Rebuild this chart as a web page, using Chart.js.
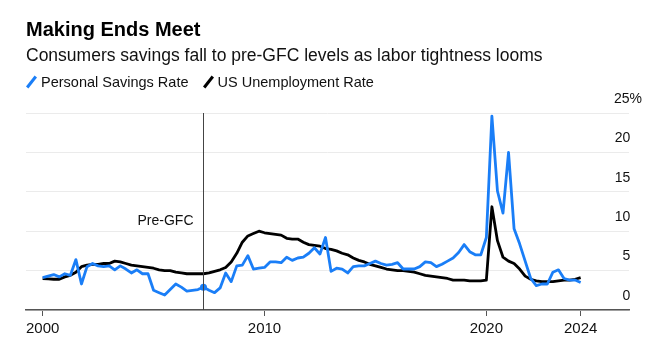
<!DOCTYPE html>
<html>
<head>
<meta charset="utf-8">
<script src="https://cdn.jsdelivr.net/npm/chart.js@4.4.1/dist/chart.umd.min.js"></script>
<style>
  body { margin: 0; background: #fff; font-family: 'Liberation Sans', Arial, sans-serif; }
  .wrap { position: relative; width: 665px; height: 349px; }
  .title { position: absolute; left: 26px; top: 18px; font-size: 20px; font-weight: bold; color: #000; }
  .sub { position: absolute; left: 26px; top: 45px; font-size: 17.5px; color: #111; }
  .legend { position: absolute; left: 26px; top: 73px; font-size: 14.5px; color: #111; }
  .legend span { display: inline-block; vertical-align: middle; }
  .key { width: 3px; height: 14px; margin: 0 8px 0 4px; transform: rotate(38deg); }
  canvas { position: absolute; left: 0; top: 0; }
</style>
</head>
<body>
<div class="wrap">
  <canvas class="canva1"></canvas>
  <div class="title">Making Ends Meet</div>
  <div class="sub">Consumers savings fall to pre-GFC levels as labor tightness looms</div>
  <div class="legend">
    <span class="key" style="background:#1a7ef7"></span><span>Personal Savings Rate</span>
    <span class="key" style="background:#000;margin-left:14px"></span><span>US Unemployment Rate</span>
  </div>
</div>
<script>
// quarterly, 2000 Q1 .. 2024 Q2
let startYear = 2000;
let savingsRate = [
  4.1, 4.3, 4.5, 4.2, 4.6, 4.4, 6.4, 3.3, 5.5, 5.9,
  5.6, 5.5, 5.6, 5.1, 5.6, 5.2, 4.7, 5.1, 4.6, 4.6,
  2.5, 2.2, 1.9, 2.6, 3.3, 2.9, 2.4, 2.5, 2.6, 2.9,
  2.5, 2.2, 2.8, 4.7, 3.6, 5.6, 5.7, 6.9, 5.2, 5.3,
  5.4, 6.1, 6.1, 6.0, 6.7, 6.3, 6.6, 6.7, 7.2, 7.9,
  7.1, 9.2, 4.9, 5.3, 5.2, 4.7, 5.5, 5.6, 5.6, 5.9,
  6.2, 5.9, 5.7, 5.8, 6.0, 5.2, 5.2, 5.2, 5.5, 6.1,
  6.0, 5.5, 5.8, 6.2, 6.6, 7.3, 8.3, 7.4, 7.0, 7.0,
  9.2, 24.6, 15.1, 12.3, 20.0, 10.3, 8.4, 6.2, 4.0, 3.1,
  3.3, 3.3, 4.8, 5.1, 4.0, 3.8, 3.8, 3.5
];
let unemploymentRate = [
  4.0, 3.95, 3.9, 3.9, 4.2, 4.4, 4.8, 5.5, 5.7, 5.8,
  5.8, 5.9, 5.9, 6.2, 6.1, 5.9, 5.7, 5.6, 5.5, 5.4,
  5.3, 5.1, 5.0, 5.0, 4.8, 4.7, 4.6, 4.6, 4.6, 4.6,
  4.7, 4.9, 5.1, 5.4, 6.1, 7.2, 8.6, 9.4, 9.7, 10.0,
  9.8, 9.7, 9.6, 9.5, 9.1, 9.0, 9.0, 8.6, 8.3, 8.2,
  8.1, 7.8, 7.7, 7.5, 7.2, 7.0, 6.6, 6.3, 6.1, 5.8,
  5.6, 5.4, 5.2, 5.1, 5.0, 5.0, 4.9, 4.8, 4.6, 4.4,
  4.3, 4.2, 4.1, 4.0, 3.8, 3.8, 3.8, 3.7, 3.7, 3.7,
  3.8, 13.1, 8.8, 6.7, 6.2, 5.9, 5.2, 4.3, 3.9, 3.7,
  3.6, 3.6, 3.6, 3.7, 3.8, 3.8, 3.9, 4.1
];
let xTicks = [2000, 2010, 2020, 2024.25];
let xTickLabels = [`2000`, `2010`, `2020`, `2024`];
let yTicks = [0, 5, 10, 15, 20, 25];
let preGfcIndex = 29; // 2007 Q2

let toPoints = arr => arr.map((v, i) => ({ x: startYear + i / 4, y: v }));

let preGfc = {
  id: `preGfc`,
  afterDatasetsDraw(chart) {
    let { ctx, chartArea, scales } = chart;
    let x = Math.round(scales.x.getPixelForValue(startYear + preGfcIndex / 4)) + 0.5;
    ctx.save();
    ctx.strokeStyle = `#444`;
    ctx.lineWidth = 1;
    ctx.beginPath();
    ctx.moveTo(x, chartArea.top);
    ctx.lineTo(x, chartArea.bottom);
    ctx.stroke();
    ctx.fillStyle = `#111`;
    ctx.font = `14px 'Liberation Sans', Arial, sans-serif`;
    ctx.textAlign = `right`;
    ctx.textBaseline = `middle`;
    ctx.fillText(`Pre-GFC`, x - 10, scales.y.getPixelForValue(11.3));
    ctx.restore();
  }
};

Chart.defaults.font.family = `'Liberation Sans', Arial, sans-serif`;
Chart.defaults.font.size = 14;
Chart.defaults.color = `#111`;

let canva1 = document.querySelector(`.canva1`);

new Chart(canva1, {
  type: `line`,
  data: {
    datasets: [
      {
        label: `Personal Savings Rate`,
        data: toPoints(savingsRate),
        borderColor: `#1a7ef7`,
        backgroundColor: `#1a7ef7`,
        borderWidth: 2.8,
        borderJoinStyle: `round`,
        pointRadius: ctx => ctx.dataIndex === preGfcIndex ? 3.5 : 0,
        pointBorderWidth: 0
      },
      {
        label: `US Unemployment Rate`,
        data: toPoints(unemploymentRate),
        borderColor: `#000`,
        backgroundColor: `#000`,
        borderWidth: 2.8,
        borderJoinStyle: `round`,
        pointRadius: 0
      }
    ]
  },
  options: {
    responsive: true,
    maintainAspectRatio: false,
    animation: false,
    layout: { padding: { top: 113, right: 10, left: 26, bottom: 7 } },
    plugins: { legend: { display: false }, tooltip: { enabled: false } },
    scales: {
      x: {
        type: `linear`,
        min: 1999.25,
        max: 2026.43,
        afterBuildTicks: axis => { axis.ticks = xTicks.map(v => ({ value: v })); },
        ticks: {
          callback: (v, i) => xTickLabels[i],
          padding: 4,
          maxRotation: 0,
          font: { size: 15 },
          color: `#111`
        },
        grid: { drawOnChartArea: false, drawTicks: true, tickLength: 6, color: `#555` },
        border: { color: `#555`, width: 1.5 }
      },
      y: {
        position: `right`,
        min: 0,
        max: 25,
        afterBuildTicks: axis => { axis.ticks = yTicks.map(v => ({ value: v })); },
        ticks: {
          mirror: true,
          padding: 13,
          labelOffset: -14,
          // numbers line up, the % hangs to the right
          callback: v => v === 25 ? `25%` : v + `   `
        },
        grid: { color: `#ebebeb`, lineWidth: 1, drawTicks: false },
        border: { display: false }
      }
    }
  },
  plugins: [preGfc]
});
</script>
</body>
</html>
